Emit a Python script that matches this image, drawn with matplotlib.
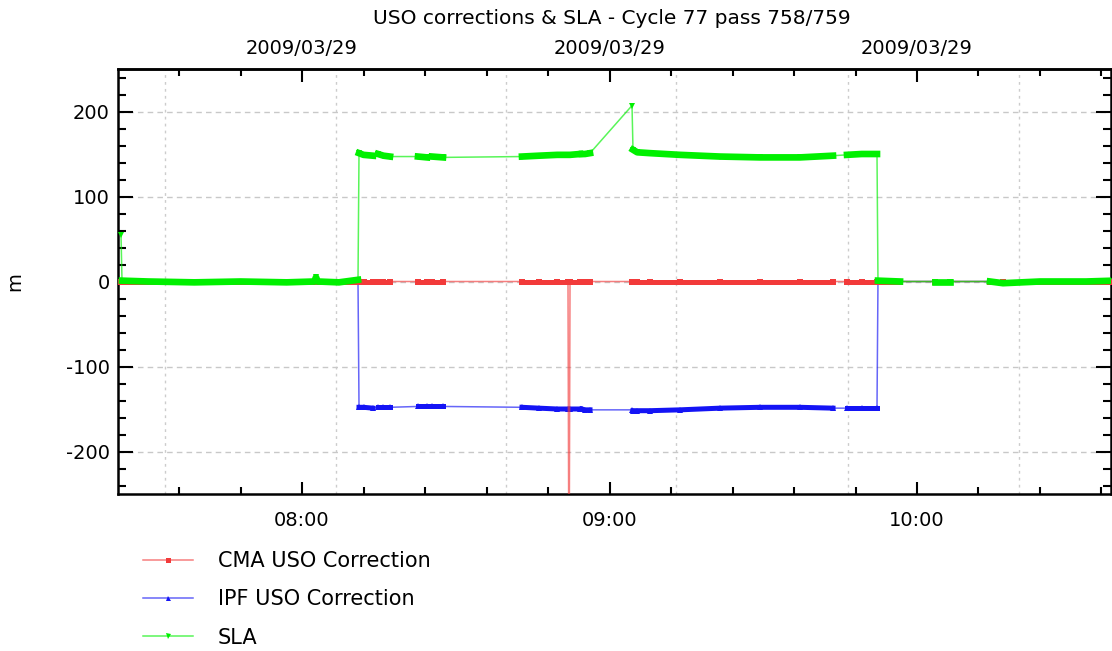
import numpy as np
import matplotlib
matplotlib.use("Agg")
import matplotlib.pyplot as plt
from matplotlib.ticker import MultipleLocator, FuncFormatter, FixedLocator

plt.rcParams['font.family'] = ['DejaVu Sans']
plt.rcParams['axes.unicode_minus'] = False

# ---------------- data (time in decimal hours of 2009/03/29) ----------------
time_h = [7.4114, 7.4146, 7.5000, 7.6500, 7.8000, 7.9500, 8.0400, 8.0455, 8.0510, 8.1200,
          8.1821, 8.1854, 8.2000, 8.2309, 8.2472, 8.2650, 8.2862, 8.3772, 8.4065, 8.4228,
          8.4585, 8.7154, 8.7700, 8.8300, 8.8650, 8.8683, 8.8716, 8.9041, 8.9106, 8.9203,
          8.9366, 9.0732, 9.0764, 9.0900, 9.1317, 9.2293, 9.3593, 9.4894, 9.6195, 9.7268,
          9.7724, 9.8200, 9.8699, 9.8731, 9.9447, 10.0585, 10.1073, 10.2374, 10.2797, 10.4000,
          10.5500, 10.6400]
cma_uso = [0, 0, 0, 0, 0, 0, 0, 0, 0, 0,
           0, 0, 0, 0, 0, 0, 0, 0, 0, 0,
           0, 0, 0, 0, 0, -400, 0, 0, 0, 0,
           0, 0, 0, 0, 0, 0, 0, 0, 0, 0,
           0, 0, 0, 0, 0, 0, 0, 0, 0, 0,
           0, 0]
ipf_uso = [0, 0, 0, 0, 0, 0, 0, 0, 0, 0,
           0, -148, -148, -149, -148, -148, -148, -147, -147, -147,
           -147, -148, -149, -150, -150, -150, -150, -150, -150, -151,
           -151, -151, -152, -152, -152, -151, -149, -148, -148, -149,
           -149, -149, -149, 0, 0, 0, 0, 0, 0, 0,
           0, 0]
sla = [55, 1, 0, -1, 0, -1, 0, 5, 0, -1,
       2, 151, 149, 148, 150, 148, 147, 147, 146, 147,
       146, 147, 148, 149, 149, 149, 149, 150, 150, 150,
       151, 207, 155, 152, 151, 149, 147, 146, 146, 148,
       149, 150, 150, 1, 0, 0, 0, 0, -2, 0,
       0, 1]
# acquisition burst id of each sample (-1 = isolated sample)
burst = [-1, 0, 0, 0, 0, 0, 0, 0, 0, 0,
         0, 1, 1, 1, 2, 2, 2, 3, 3, 4,
         4, 5, 5, 5, 5, 5, 5, 5, 6, 6,
         6, -1, 7, 7, 7, 7, 7, 7, 7, 7,
         8, 8, 8, 9, 9, 10, 10, 11, 11, 11,
         11, 11]

series_names = ["CMA USO Correction", "IPF USO Correction", "SLA"]
top_date_label = "2009/03/29"
title = "USO corrections & SLA - Cycle 77 pass 758/759"

# ---------------- figure ----------------
W, H = 1112, 651
fig = plt.figure(figsize=(W / 100, H / 100), dpi=100)
ax = fig.add_axes([118 / W, 1 - 494 / H, (1111 - 118) / W, (494 - 69) / H])

t = np.array(time_h)
b = np.array(burst)
ylo, yhi = -250, 250

styles = [
    (np.array(cma_uso, float), '#f23a3a', 's', 3, 3.6),
    (np.array(ipf_uso, float), '#1414f5', '^', 2, 3.6),
    (np.array(sla, float), '#00f000', 'v', 4, 4.8),
]
order = [1, 0, 2]
handles = {}
for i in order:
    vals, col, mk, z, thick = styles[i]
    rgba = matplotlib.colors.to_rgba(col, 0.65)
    ln, = ax.plot(t, vals, color=rgba, lw=1.1, marker=mk, ms=4.5, mfc=col, mec=col,
                  mew=0, zorder=z, label=series_names[i])
    handles[i] = ln
    vis = np.where(np.abs(vals) < 250, vals, np.nan)
    for bid in sorted(set(burst)):
        if bid < 0:
            continue
        m = b == bid
        ax.plot(t[m], vis[m], color=col, lw=thick, solid_capstyle='projecting',
                zorder=z)

ax.set_xlim(7.4016, 10.6309)
ax.set_ylim(ylo, yhi)

# grid
ax.yaxis.grid(True, which='major', color='#c8c8c8', ls=(0, (4, 3)), lw=1)
for gx in [7.553, 8.109, 8.665, 9.216, 9.776, 10.332]:
    ax.axvline(gx, color='#cccccc', ls=(0, (2, 3)), lw=1, zorder=0)
ax.set_axisbelow(True)

# ticks
ax.xaxis.set_major_locator(FixedLocator([8, 9, 10]))
ax.xaxis.set_minor_locator(MultipleLocator(0.2))
ax.xaxis.set_major_formatter(FuncFormatter(
    lambda v, p: f"{int(v):02d}:{int(round((v % 1) * 60)):02d}"))
ax.yaxis.set_major_locator(MultipleLocator(100))
ax.yaxis.set_minor_locator(MultipleLocator(20))
ax.yaxis.set_major_formatter(FuncFormatter(lambda v, p: f"{int(round(v))}"))

ax.tick_params(axis='both', which='both', direction='in', width=1.5, colors='black')
ax.tick_params(axis='x', which='major', length=9, pad=12, labelsize=14)
ax.tick_params(axis='x', which='minor', length=5)
ax.tick_params(axis='y', which='major', length=11, pad=6, labelsize=14, right=True)
ax.tick_params(axis='y', which='minor', length=6, right=True)
ax.tick_params(axis='x', which='both', top=False)

for s in ax.spines.values():
    s.set_linewidth(1.8)

sec = ax.secondary_xaxis('top')
sec.xaxis.set_major_locator(FixedLocator([8, 9, 10]))
sec.xaxis.set_minor_locator(MultipleLocator(0.2))
sec.xaxis.set_major_formatter(FuncFormatter(lambda v, p: top_date_label))
sec.tick_params(which='both', direction='in', width=1.5)
sec.tick_params(which='major', length=9, pad=8, labelsize=14)
sec.tick_params(which='minor', length=5)
sec.spines['top'].set_linewidth(1.8)

fig.text(15 / W, 1 - 282 / H, "m", rotation=90, ha='center', va='center', fontsize=14)
fig.text(612 / W, 1 - 18 / H, title, ha='center', va='center', fontsize=14.5)

leg = fig.legend([handles[0], handles[1], handles[2]], series_names,
                 loc='upper left', bbox_to_anchor=(143 / W, 1 - 551 / H),
                 frameon=False, fontsize=15, handlelength=2.4, handletextpad=1.2,
                 labelspacing=0.88, borderpad=0, borderaxespad=0, numpoints=1,
                 markerscale=0.8)

fig.savefig("out.png", dpi=100)
